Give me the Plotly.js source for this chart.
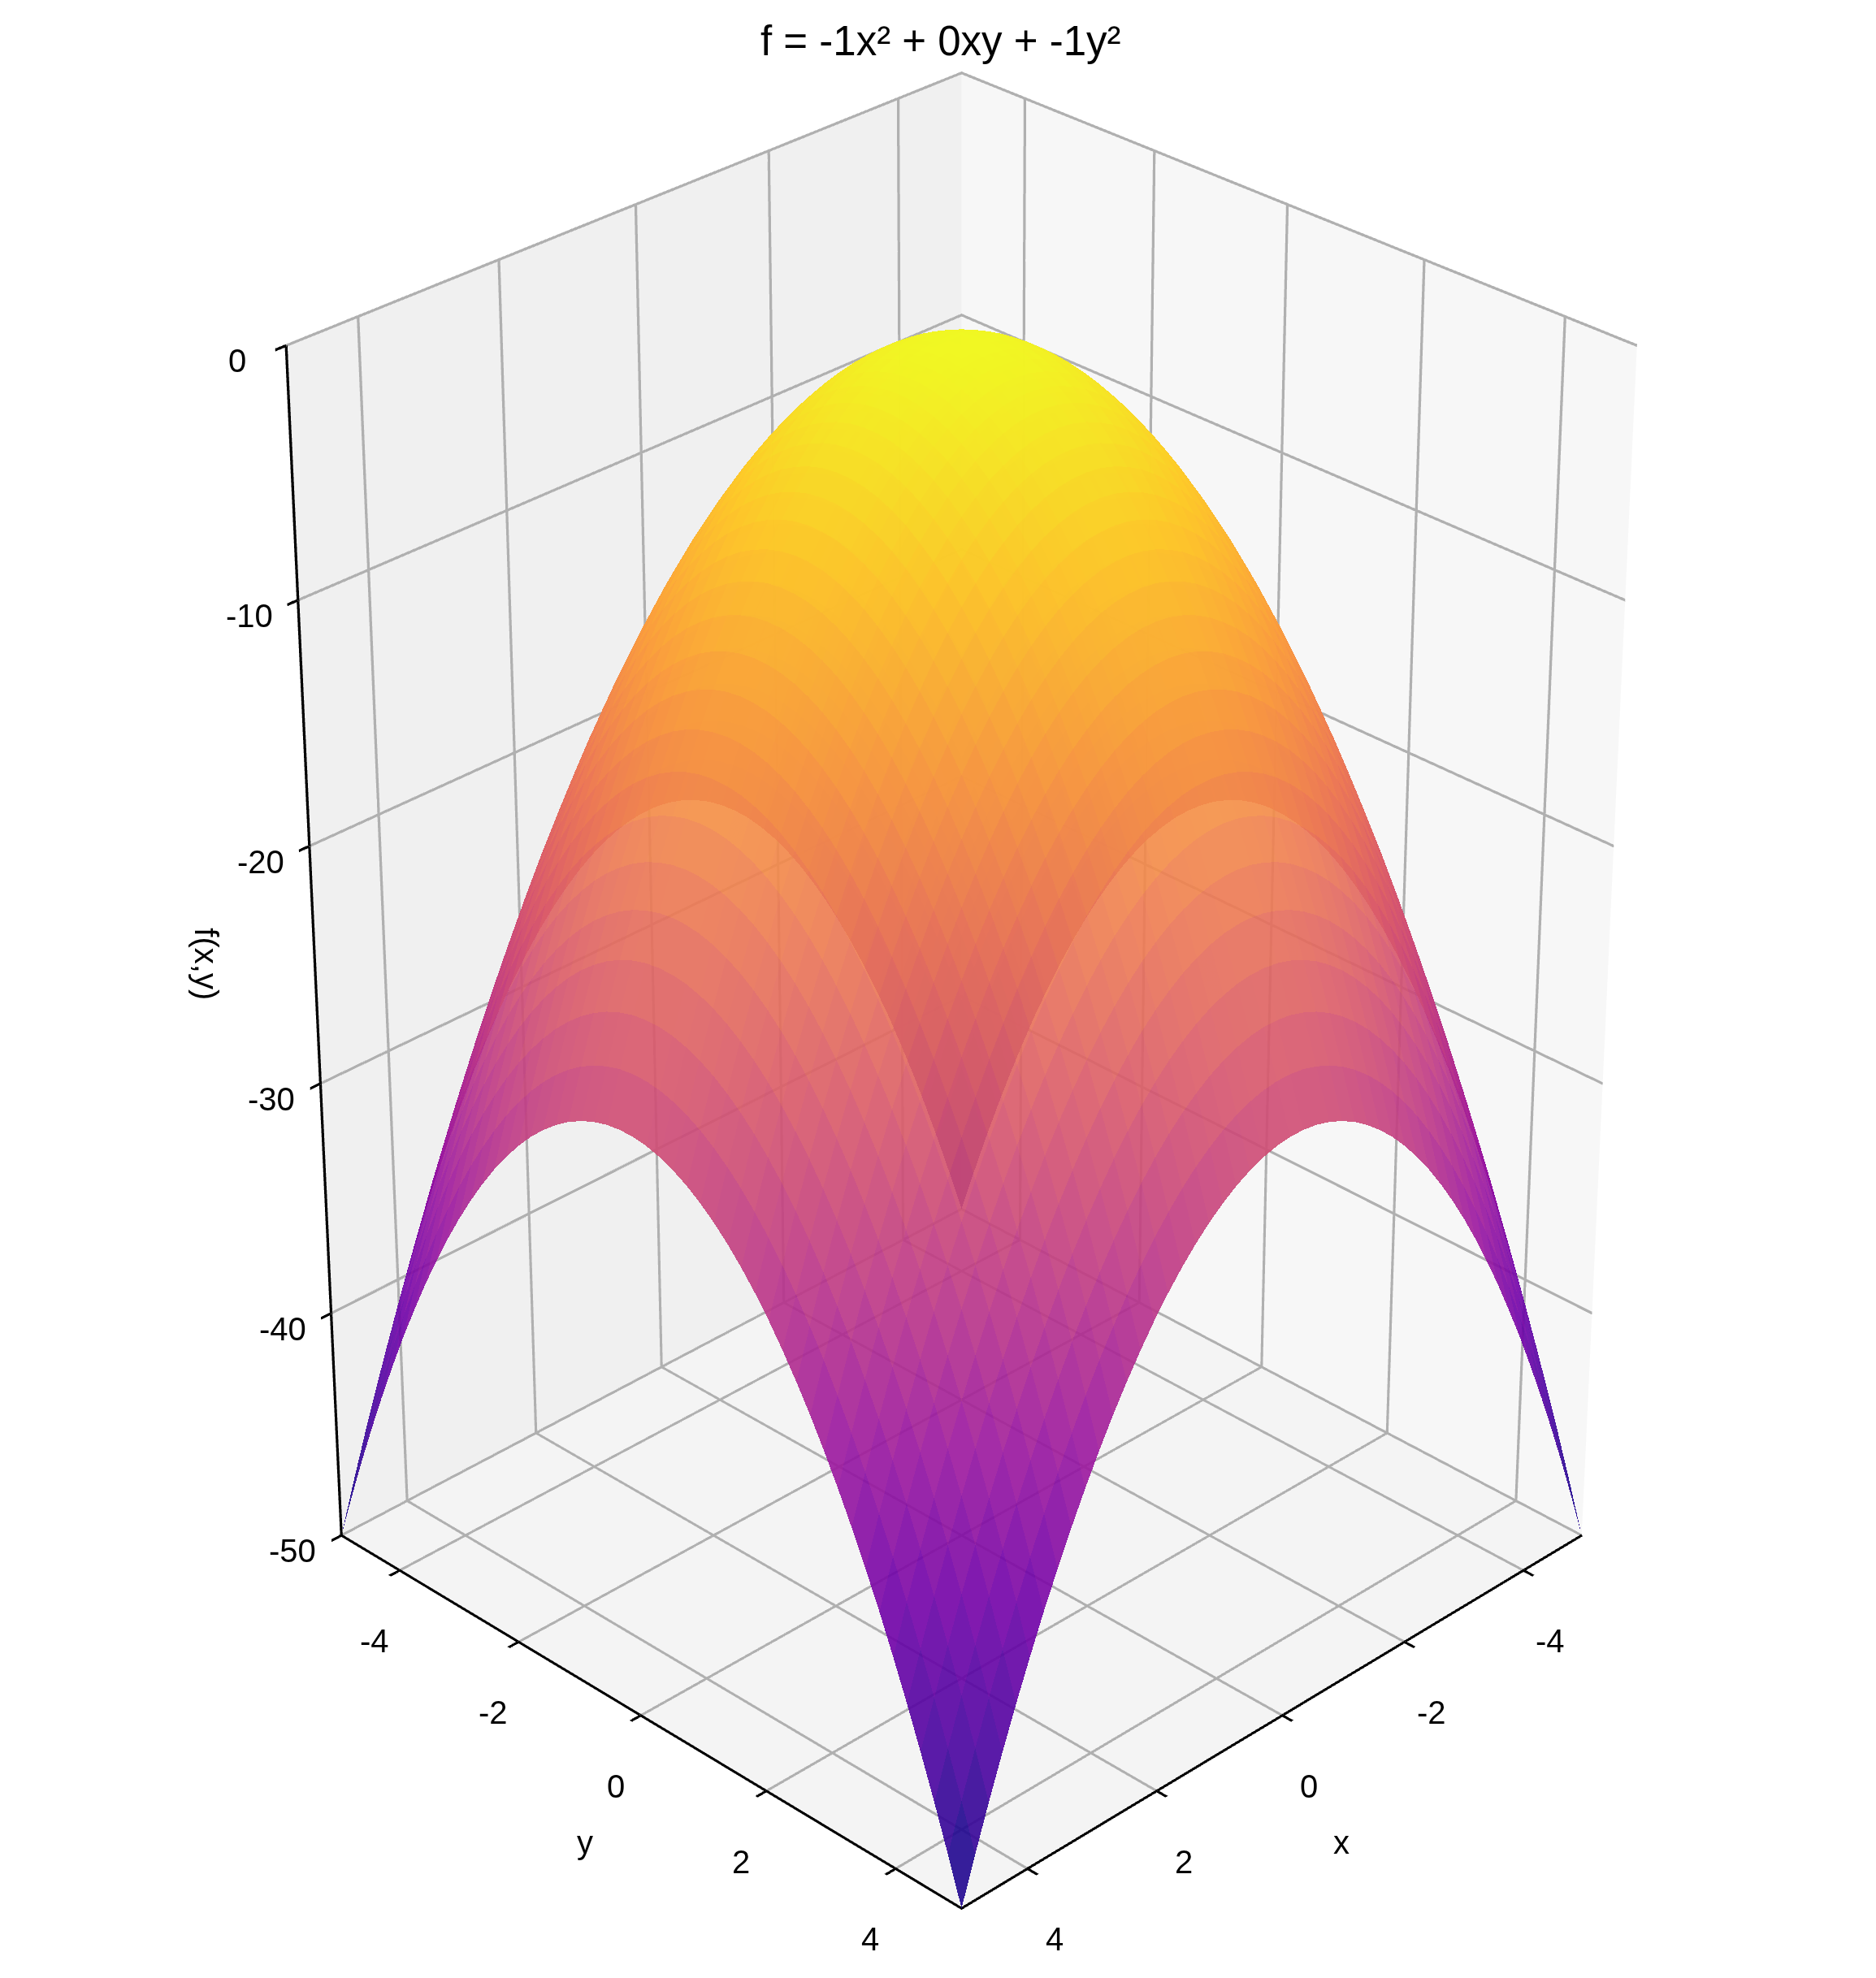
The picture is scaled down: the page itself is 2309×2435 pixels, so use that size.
<!DOCTYPE html>
<html><head><meta charset="utf-8">
<script src="https://cdn.plot.ly/plotly-3.0.1.min.js"></script>
<style>html,body{margin:0;padding:0;background:#fff;overflow:hidden;width:2309px;height:2435px}
#plot{position:absolute;left:29px;top:-2906px;width:2309px;height:8190px}</style></head>
<body><div id="plot"></div>
<script>
var titleText = 'f = -1x² + 0xy + -1y²';
var xTicks = [-4, -2, 0, 2, 4];
var yTicks = [-4, -2, 0, 2, 4];
var zTicks = [0, -10, -20, -30, -40, -50];
var gridValues = [-5,-4.796,-4.592,-4.388,-4.184,-3.98,-3.776,-3.571,-3.367,-3.163,-2.959,-2.755,-2.551,-2.347,-2.143,-1.939,-1.735,-1.531,-1.327,-1.122,-0.918,-0.714,-0.51,-0.306,-0.102,0.102,0.306,0.51,0.714,0.918,1.122,1.327,1.531,1.735,1.939,2.143,2.347,2.551,2.755,2.959,3.163,3.367,3.571,3.776,3.98,4.184,4.388,4.592,4.796,5];
var depthQuadrant = [
[50,48,46.08,44.25,42.5,40.84,39.25,37.76,36.34,35.01,33.76,32.59,31.51,30.51,29.59,28.76,28.01,27.34,26.76,26.26,25.84,25.51,25.26,25.09,25.01],
[48,46,44.08,42.25,40.5,38.84,37.25,35.76,34.34,33.01,31.76,30.59,29.51,28.51,27.59,26.76,26.01,25.34,24.76,24.26,23.84,23.51,23.26,23.09,23.01],
[46.08,44.08,42.16,40.33,38.58,36.92,35.33,33.84,32.42,31.09,29.84,28.67,27.59,26.59,25.67,24.84,24.09,23.42,22.84,22.34,21.92,21.59,21.34,21.17,21.09],
[44.25,42.25,40.33,38.5,36.75,35.09,33.5,32.01,30.59,29.26,28.01,26.84,25.76,24.76,23.84,23.01,22.26,21.59,21.01,20.51,20.09,19.76,19.51,19.34,19.26],
[42.5,40.5,38.58,36.75,35,33.34,31.75,30.26,28.84,27.51,26.26,25.09,24.01,23.01,22.09,21.26,20.51,19.84,19.26,18.76,18.34,18.01,17.76,17.59,17.51],
[40.84,38.84,36.92,35.09,33.34,31.68,30.09,28.6,27.18,25.85,24.6,23.43,22.35,21.35,20.43,19.6,18.85,18.18,17.6,17.1,16.68,16.35,16.1,15.93,15.85],
[39.25,37.25,35.33,33.5,31.75,30.09,28.5,27.01,25.59,24.26,23.01,21.84,20.76,19.76,18.84,18.01,17.26,16.59,16.01,15.51,15.09,14.76,14.51,14.34,14.26],
[37.76,35.76,33.84,32.01,30.26,28.6,27.01,25.52,24.1,22.77,21.52,20.35,19.27,18.27,17.35,16.52,15.77,15.1,14.52,14.02,13.6,13.27,13.02,12.85,12.77],
[36.34,34.34,32.42,30.59,28.84,27.18,25.59,24.1,22.68,21.35,20.1,18.93,17.85,16.85,15.93,15.1,14.35,13.68,13.1,12.6,12.18,11.85,11.6,11.43,11.35],
[35.01,33.01,31.09,29.26,27.51,25.85,24.26,22.77,21.35,20.02,18.77,17.6,16.52,15.52,14.6,13.77,13.02,12.35,11.77,11.27,10.85,10.52,10.27,10.1,10.02],
[33.76,31.76,29.84,28.01,26.26,24.6,23.01,21.52,20.1,18.77,17.52,16.35,15.27,14.27,13.35,12.52,11.77,11.1,10.52,10.02,9.6,9.27,9.02,8.85,8.77],
[32.59,30.59,28.67,26.84,25.09,23.43,21.84,20.35,18.93,17.6,16.35,15.18,14.1,13.1,12.18,11.35,10.6,9.93,9.35,8.85,8.43,8.1,7.85,7.68,7.6],
[31.51,29.51,27.59,25.76,24.01,22.35,20.76,19.27,17.85,16.52,15.27,14.1,13.02,12.02,11.1,10.27,9.52,8.85,8.27,7.77,7.35,7.02,6.77,6.6,6.52],
[30.51,28.51,26.59,24.76,23.01,21.35,19.76,18.27,16.85,15.52,14.27,13.1,12.02,11.02,10.1,9.27,8.52,7.85,7.27,6.77,6.35,6.02,5.77,5.6,5.52],
[29.59,27.59,25.67,23.84,22.09,20.43,18.84,17.35,15.93,14.6,13.35,12.18,11.1,10.1,9.18,8.35,7.6,6.93,6.35,5.85,5.43,5.1,4.85,4.68,4.6],
[28.76,26.76,24.84,23.01,21.26,19.6,18.01,16.52,15.1,13.77,12.52,11.35,10.27,9.27,8.35,7.52,6.77,6.1,5.52,5.02,4.6,4.27,4.02,3.85,3.77],
[28.01,26.01,24.09,22.26,20.51,18.85,17.26,15.77,14.35,13.02,11.77,10.6,9.52,8.52,7.6,6.77,6.02,5.35,4.77,4.27,3.85,3.52,3.27,3.1,3.02],
[27.34,25.34,23.42,21.59,19.84,18.18,16.59,15.1,13.68,12.35,11.1,9.93,8.85,7.85,6.93,6.1,5.35,4.68,4.1,3.6,3.18,2.85,2.6,2.43,2.35],
[26.76,24.76,22.84,21.01,19.26,17.6,16.01,14.52,13.1,11.77,10.52,9.35,8.27,7.27,6.35,5.52,4.77,4.1,3.52,3.02,2.6,2.27,2.02,1.85,1.77],
[26.26,24.26,22.34,20.51,18.76,17.1,15.51,14.02,12.6,11.27,10.02,8.85,7.77,6.77,5.85,5.02,4.27,3.6,3.02,2.52,2.1,1.77,1.52,1.35,1.27],
[25.84,23.84,21.92,20.09,18.34,16.68,15.09,13.6,12.18,10.85,9.6,8.43,7.35,6.35,5.43,4.6,3.85,3.18,2.6,2.1,1.68,1.35,1.1,0.93,0.85],
[25.51,23.51,21.59,19.76,18.01,16.35,14.76,13.27,11.85,10.52,9.27,8.1,7.02,6.02,5.1,4.27,3.52,2.85,2.27,1.77,1.35,1.02,0.77,0.6,0.52],
[25.26,23.26,21.34,19.51,17.76,16.1,14.51,13.02,11.6,10.27,9.02,7.85,6.77,5.77,4.85,4.02,3.27,2.6,2.02,1.52,1.1,0.77,0.52,0.35,0.27],
[25.09,23.09,21.17,19.34,17.59,15.93,14.34,12.85,11.43,10.1,8.85,7.68,6.6,5.6,4.68,3.85,3.1,2.43,1.85,1.35,0.93,0.6,0.35,0.18,0.1],
[25.01,23.01,21.09,19.26,17.51,15.85,14.26,12.77,11.35,10.02,8.77,7.6,6.52,5.52,4.6,3.77,3.02,2.35,1.77,1.27,0.85,0.52,0.27,0.1,0.02]
];
var plasma = ['#0d0887','#46039f','#7201a8','#9c179e','#bd3786','#d8576b','#ed7953','#fb9f3a','#fdca26','#f0f921'];
// The 50x50 surface is symmetric: the table above holds one quadrant, mirrored to the other three.
var mirror = function (i) { return i < 25 ? i : 49 - i; };
var zRows = gridValues.map(function (_, r) {
  return gridValues.map(function (_, c) { return -depthQuadrant[mirror(r)][mirror(c)]; });
});
// A flat-coloured mesh over the same grid: one colour per cell, the mean of its four corners.
var n = gridValues.length, vx = [], vy = [], vz = [], fi = [], fj = [], fk = [], cellZ = [];
zRows.forEach(function (row, r) {
  row.forEach(function (v, c) { vx.push(gridValues[c]); vy.push(gridValues[r]); vz.push(v); });
});
for (var r = 0; r < n - 1; r++) {
  for (var c = 0; c < n - 1; c++) {
    var a = r * n + c, b = a + 1, d = a + n, e = d + 1;
    var mean = (zRows[r][c] + zRows[r][c + 1] + zRows[r + 1][c] + zRows[r + 1][c + 1]) / 4;
    fi.push(a, a); fj.push(b, e); fk.push(e, d); cellZ.push(mean, mean);
  }
}
var axisBase = {
  showspikes: false, showgrid: true, gridcolor: '#b0b0b0', gridwidth: 7,
  showline: true, linecolor: '#000', linewidth: 7, zeroline: false,
  ticks: 'outside', tickcolor: '#000', tickwidth: 7, ticklen: 14,
  showbackground: true, showticklabels: false, title: {text: ''}
};
function axis(extra) { return Object.assign({}, axisBase, extra); }
var data = [{
  type: 'mesh3d', x: vx, y: vy, z: vz, i: fi, j: fj, k: fk,
  intensity: cellZ, intensitymode: 'cell', flatshading: true,
  colorscale: plasma.map(function (c, i) { return [i / (plasma.length - 1), c]; }),
  showscale: false, opacity: 0.9, cmin: -50, cmax: 0,
  lighting: {ambient: 1, diffuse: 0, specular: 0, fresnel: 0, roughness: 1},
  hoverinfo: 'skip'
}];
var textFont = {family: 'Liberation Sans', size: 40, color: '#000'};
function label(x, y, z, text, dx, dy, angle) {
  return {x: x, y: y, z: z, text: text, showarrow: false, xanchor: 'center', yanchor: 'middle',
          xshift: dx, yshift: dy, textangle: angle || 0, font: textFont};
}
var sceneLabels = []
  .concat(xTicks.map(function (t) { return label(t, 5, -50, String(t), 33, -87); }))
  .concat(yTicks.map(function (t) { return label(5, t, -50, String(t), -31, -87); }))
  .concat(zTicks.map(function (t) { return label(5, -5, t, String(t), -60, -19); }))
  .concat([label(0, 5, -50, 'x', 73, -156), label(5, 0, -50, 'y', -69, -156), label(5, -5, -25, 'f(x,y)', -134, 2, 90)]);
var layout = {
  width: 2309, height: 8190, margin: {l: 0, r: 0, t: 0, b: 0}, paper_bgcolor: '#fff',
  font: {family: 'Liberation Sans', color: '#000', size: 40},
  showlegend: false,
  scene: {
    domain: {x: [0, 1], y: [0, 1]},
    aspectmode: 'manual', aspectratio: {x: 1, y: 1, z: 1.5},
    camera: {eye: {x: 5.379, y: 5.379, z: 4.392}, center: {x: 0, y: 0, z: 0}, up: {x: 0, y: 0, z: 1}, projection: {type: 'perspective'}},
    xaxis: axis({range: [-5, 5], tick0: -4, dtick: 2, backgroundcolor: '#f7f7f7'}),
    yaxis: axis({range: [-5, 5], tick0: -4, dtick: 2, backgroundcolor: '#f0f0f0'}),
    zaxis: axis({range: [-50, 0], tick0: 0, dtick: 10, backgroundcolor: '#f4f4f4'}),
    annotations: sceneLabels
  },
  annotations: [{xref: 'paper', yref: 'paper', x: (1158 - 29) / 2309, y: 1 - (2906 + 50) / 8190, text: titleText, showarrow: false, font: {size: 51, family: 'Liberation Sans', color: '#000'}}]
};
Plotly.newPlot('plot', data, layout, {displayModeBar: false, plotGlPixelRatio: 1});
</script></body></html>
